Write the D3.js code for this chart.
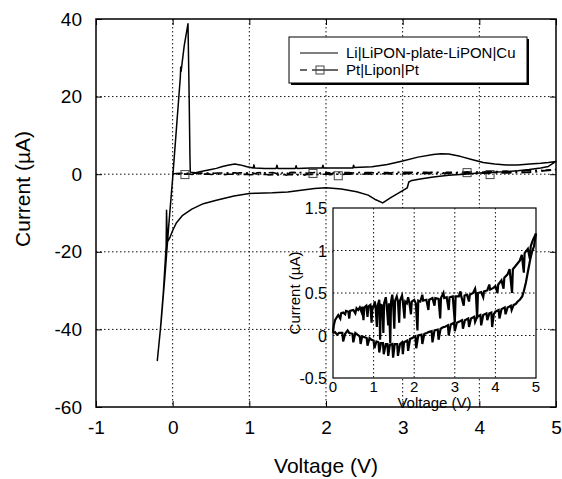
<!DOCTYPE html>
<html>
<head>
<meta charset="utf-8">
<script src="https://cdn.jsdelivr.net/npm/d3@7"></script>
<style>
  html, body { margin: 0; padding: 0; background: #fff; }
  svg { display: block; font-family: "Liberation Sans", Arial, sans-serif; }
</style>
</head>
<body>
<svg id="chart" width="562" height="479"></svg>
<script>
// ---------------- DATA ----------------
const xTicks = [-1, 0, 1, 2, 3, 4, 5];
const yTicks = [-60, -40, -20, 0, 20, 40];
const insetXTicks = [0, 1, 2, 3, 4, 5];
const insetYTicks = [-0.5, 0, 0.5, 1, 1.5];
const seriesNames = ["Li|LiPON-plate-LiPON|Cu", "Pt|Lipon|Pt"];

// Li|LiPON-plate-LiPON|Cu : [V, µA], in sweep order
const liAnodic = [[0.23,0.5],[0.3,0.4],[0.4,0.8],[0.5,1.2],[0.57,1.5],[0.65,2.0],[0.72,2.3],[0.81,2.6],[0.88,2.4],[0.97,1.9],
  [1.05,1.6],[1.06,2.4],[1.07,1.6],[1.2,1.5],[1.35,1.5],[1.36,2.3],[1.37,1.5],[1.55,1.5],[1.6,1.5],[1.61,2.2],[1.62,1.5],
  [1.8,1.6],[1.95,1.6],[1.96,2.3],[1.97,1.6],[2.2,1.6],[2.35,1.6],[2.36,2.3],[2.37,1.7],[2.6,1.9],[2.8,2.5],[3.0,3.4],[3.2,4.4],
  [3.4,5.1],[3.5,5.3],[3.6,5.2],[3.75,4.6],[3.9,3.8],[4.05,3.0],[4.2,2.6],[4.35,2.4],[4.5,2.4],[4.66,2.6],[4.8,2.8],[4.9,3.0],[5.0,3.3]];
const liCathodic = [[5.0,3.3],[4.9,2.0],[4.8,1.6],[4.65,1.2],[4.5,0.9],[4.3,0.6],[4.0,0.3],[3.8,0.0],[3.6,-0.3],[3.4,-0.7],
  [3.25,-1.2],[3.12,-1.6],[3.08,-2.0],[3.06,-3.5],[2.95,-4.8],[2.85,-6.0],[2.74,-7.4],[2.65,-6.6],[2.55,-5.4],[2.4,-4.5],
  [2.2,-3.8],[2.0,-3.5],[1.85,-3.7],[1.7,-4.1],[1.5,-4.6],[1.3,-4.8],[1.1,-4.9],[1.0,-5.0],[0.8,-5.6],[0.57,-6.7],[0.4,-7.6],
  [0.25,-9.0],[0.13,-10.6],[0.05,-12.5],[0.0,-14.5],[-0.04,-16.5],[-0.07,-17.5],[-0.08,-9.3],[-0.085,-18.5],[-0.12,-30],
  [-0.16,-40],[-0.2,-48]];
const liReturn = [[-0.2,-48],[-0.15,-38],[-0.1,-26],[-0.05,-13],[0.0,-1],[0.05,12],[0.1,25],[0.105,27.6],[0.11,26.5],
  [0.15,33],[0.2,38.8],[0.215,20],[0.225,5],[0.23,0.5]];

// Pt|Lipon|Pt : [V, µA]
const ptForward = [[0.00,0.03],[0.02,0.12],[0.05,0.18],[0.10,0.22],[0.13,0.24],[0.18,0.20],[0.2,0.26],[0.25,0.27],[0.3,0.25],
  [0.32,0.29],[0.38,0.28],[0.40,0.20],[0.42,0.29],[0.5,0.30],[0.55,0.26],[0.58,0.32],[0.62,0.30],[0.66,0.33],[0.70,0.28],
  [0.72,0.34],[0.75,0.18],[0.77,0.33],[0.82,0.35],[0.85,0.22],[0.87,0.34],[0.92,0.36],[0.95,0.15],[0.97,0.34],[1.00,0.34],
  [1.03,0.40],[1.05,0.33],[1.08,0.10],[1.10,0.35],[1.14,0.42],[1.16,-0.05],[1.18,0.36],[1.22,0.35],[1.24,0.03],[1.26,0.38],
  [1.30,0.45],[1.32,0.37],[1.36,0.12],[1.38,0.38],[1.41,-0.09],[1.43,0.40],[1.46,0.48],[1.48,0.38],[1.51,0.08],[1.53,0.41],
  [1.57,0.46],[1.60,0.40],[1.63,0.15],[1.65,0.41],[1.70,0.47],[1.72,0.40],[1.76,0.20],[1.78,0.40],[1.82,0.38],[1.85,0.45],
  [1.88,0.39],[1.92,0.25],[1.94,0.40],[2.00,0.42],[2.04,0.38],[2.08,0.06],[2.10,0.41],[2.15,0.40],[2.2,0.48],[2.22,0.41],
  [2.3,0.42],[2.35,0.30],[2.37,0.42],[2.45,0.44],[2.5,0.35],[2.52,0.44],[2.6,0.43],[2.64,0.20],[2.66,0.44],[2.72,0.50],
  [2.74,0.44],[2.8,0.45],[2.85,0.30],[2.87,0.45],[2.95,0.46],[3.0,0.15],[3.02,0.46],[3.1,0.46],[3.14,0.52],[3.16,0.46],
  [3.22,0.35],[3.24,0.47],[3.3,0.48],[3.35,0.40],[3.37,0.48],[3.45,0.50],[3.5,0.55],[3.52,0.49],[3.55,0.20],[3.57,0.50],
  [3.65,0.51],[3.7,0.45],[3.72,0.52],[3.8,0.53],[3.85,0.60],[3.87,0.54],[3.95,0.56],[4.0,0.58],[4.05,0.50],[4.07,0.60],
  [4.15,0.65],[4.2,0.55],[4.22,0.68],[4.3,0.72],[4.35,0.78],[4.41,0.50],[4.43,0.78],[4.5,0.82],[4.6,0.88],[4.65,0.95],
  [4.7,0.74],[4.72,0.97],[4.8,1.02],[4.85,0.90],[4.87,1.05],[4.92,1.12],[4.96,1.16],[5.0,1.20]];
const ptReverse = [[5.0,1.20],[4.95,1.05],[4.9,0.98],[4.86,0.90],[4.8,0.75],[4.75,0.62],[4.7,0.52],[4.66,0.46],[4.6,0.42],
  [4.55,0.40],[4.5,0.37],[4.45,0.36],[4.4,0.30],[4.38,0.35],[4.3,0.33],[4.25,0.25],[4.23,0.33],[4.15,0.31],[4.1,0.20],
  [4.08,0.30],[4.0,0.28],[3.96,0.25],[3.92,0.10],[3.9,0.27],[3.85,0.26],[3.8,0.18],[3.78,0.26],[3.7,0.24],[3.65,0.12],
  [3.63,0.24],[3.55,0.22],[3.5,0.16],[3.48,0.22],[3.4,0.20],[3.35,0.10],[3.33,0.20],[3.25,0.18],[3.2,0.08],[3.18,0.18],
  [3.14,0.17],[3.05,0.15],[3.0,0.05],[2.98,0.15],[2.9,0.13],[2.85,0.00],[2.83,0.12],[2.75,0.10],[2.72,0.10],[2.65,0.08],
  [2.6,-0.05],[2.58,0.07],[2.5,0.06],[2.45,-0.08],[2.43,0.05],[2.35,0.04],[2.31,0.03],[2.25,0.02],[2.2,-0.10],[2.18,0.01],
  [2.1,0.0],[2.05,-0.15],[2.03,-0.01],[1.95,-0.03],[1.9,-0.04],[1.85,-0.18],[1.83,-0.06],[1.75,-0.08],[1.72,-0.22],
  [1.70,-0.08],[1.65,-0.10],[1.6,-0.24],[1.58,-0.10],[1.52,-0.10],[1.48,-0.26],[1.46,-0.10],[1.40,-0.11],[1.36,-0.24],
  [1.34,-0.10],[1.3,-0.10],[1.25,-0.22],[1.23,-0.09],[1.18,-0.09],[1.14,-0.20],[1.12,-0.08],[1.07,-0.07],[1.02,-0.15],
  [1.0,-0.06],[0.95,-0.05],[0.9,-0.03],[0.85,-0.12],[0.83,-0.03],[0.78,-0.02],[0.72,-0.01],[0.68,-0.10],[0.66,-0.01],
  [0.6,0.01],[0.55,0.03],[0.50,-0.08],[0.48,0.02],[0.4,0.03],[0.36,0.06],[0.3,0.02],[0.25,-0.07],[0.23,0.03],[0.15,0.03],
  [0.1,0.01],[0.05,0.04],[0.0,0.03]];
const ptMarkerV = [0.16, 1.83, 2.16, 3.84, 4.14];
const ptMarkerI = [-0.1, 0.2, -0.4, 0.4, -0.1];

// ---------------- LAYOUT ----------------
const svg = d3.select("#chart");
const M = { left: 96, right: 556, top: 19, bottom: 407 };
const x = d3.scaleLinear().domain([-1, 5]).range([M.left, M.right]);
const y = d3.scaleLinear().domain([-60, 40]).range([M.bottom, M.top]);

const I = { left: 333, right: 536, top: 208, bottom: 378 };
const xi = d3.scaleLinear().domain([0, 5]).range([I.left, I.right]);
const yi = d3.scaleLinear().domain([-0.5, 1.5]).range([I.bottom, I.top]);

const fmt = d => String(d);
const FONT = "Liberation Sans, Arial, sans-serif";
const gridStyle = s => s.attr("stroke", "#111").attr("stroke-width", 1).attr("stroke-dasharray", "1.5,2.5");

// main grid
const g = svg.append("g");
g.selectAll(".vg").data(xTicks.slice(1, -1)).enter().append("line")
  .attr("x1", d => x(d)).attr("x2", d => x(d)).attr("y1", M.top).attr("y2", M.bottom).call(gridStyle);
g.selectAll(".hg").data(yTicks.slice(1, -1)).enter().append("line")
  .attr("x1", M.left).attr("x2", M.right).attr("y1", d => y(d)).attr("y2", d => y(d)).call(gridStyle);

// main axes (inward ticks)
svg.append("g").attr("transform", `translate(0,${M.bottom})`)
  .call(d3.axisBottom(x).tickValues(xTicks).tickSize(-6).tickFormat(fmt).tickPadding(14))
  .call(a => a.select(".domain").remove())
  .call(a => a.selectAll("text").attr("font-size", 19).attr("font-family", FONT).attr("fill", "#000"));
svg.append("g").attr("transform", `translate(${M.left},0)`)
  .call(d3.axisLeft(y).tickValues(yTicks).tickSize(-6).tickFormat(fmt).tickPadding(14))
  .call(a => a.select(".domain").remove())
  .call(a => a.selectAll("text").attr("font-size", 19).attr("font-family", FONT).attr("fill", "#000"));
svg.append("g").attr("transform", `translate(${M.right},0)`)
  .call(d3.axisRight(y).tickValues(yTicks).tickSize(-6).tickFormat(""))
  .call(a => a.select(".domain").remove());
svg.append("g").attr("transform", `translate(0,${M.top})`)
  .call(d3.axisTop(x).tickValues(xTicks).tickSize(-6).tickFormat(""))
  .call(a => a.select(".domain").remove());
svg.append("rect").attr("x", M.left).attr("y", M.top).attr("width", M.right - M.left).attr("height", M.bottom - M.top)
  .attr("fill", "none").attr("stroke", "#000").attr("stroke-width", 1.5);

// axis titles
svg.append("text").attr("x", (M.left + M.right) / 2).attr("y", 473).attr("text-anchor", "middle")
  .attr("font-size", 21).text("Voltage (V)");
svg.append("text").attr("transform", "translate(30,189) rotate(-90)").attr("text-anchor", "middle")
  .attr("font-size", 21).text("Current (\u00B5A)");

// main curves
const lineMain = d3.line().x(d => x(d[0])).y(d => y(d[1]));
const plot = svg.append("g");
plot.append("path").datum(ptForward.concat(ptReverse)).attr("d", lineMain)
  .attr("fill", "none").attr("stroke", "#000").attr("stroke-width", 1.6).attr("stroke-dasharray", "10,4,2,4");
plot.selectAll(".mk").data(ptMarkerV).enter().append("rect")
  .attr("x", (d) => x(d) - 4).attr("y", (d, i) => y(ptMarkerI[i]) - 4)
  .attr("width", 8).attr("height", 8).attr("fill", "none").attr("stroke", "#444").attr("stroke-width", 1);
plot.append("path").datum(liAnodic.concat(liCathodic, liReturn)).attr("d", lineMain)
  .attr("fill", "none").attr("stroke", "#000").attr("stroke-width", 1.5).attr("stroke-linejoin", "round");

// legend
const L = { x: 289, y: 37, w: 238, h: 46 };
svg.append("rect").attr("x", L.x + 2).attr("y", L.y + 2).attr("width", L.w).attr("height", L.h).attr("fill", "#000");
svg.append("rect").attr("x", L.x).attr("y", L.y).attr("width", L.w).attr("height", L.h)
  .attr("fill", "#fff").attr("stroke", "#000").attr("stroke-width", 1);
svg.append("line").attr("x1", 300).attr("x2", 338).attr("y1", 53).attr("y2", 53).attr("stroke", "#000").attr("stroke-width", 1.2);
svg.append("line").attr("x1", 300).attr("x2", 307).attr("y1", 70).attr("y2", 70).attr("stroke", "#000").attr("stroke-width", 1.2);
svg.append("line").attr("x1", 312).attr("x2", 338).attr("y1", 70).attr("y2", 70).attr("stroke", "#000").attr("stroke-width", 1.2);
svg.append("rect").attr("x", 316).attr("y", 66).attr("width", 8).attr("height", 8).attr("fill", "none").attr("stroke", "#444");
svg.selectAll(".lt").data(seriesNames).enter().append("text")
  .attr("x", 346).attr("y", (d, i) => 58 + i * 17).attr("font-size", 15).text(d => d);

// ---------------- INSET ----------------
svg.append("rect").attr("x", I.left).attr("y", I.top).attr("width", I.right - I.left).attr("height", I.bottom - I.top)
  .attr("fill", "#fff");
const gi = svg.append("g");
gi.selectAll(".ivg").data(insetXTicks.slice(1, -1)).enter().append("line")
  .attr("x1", d => xi(d)).attr("x2", d => xi(d)).attr("y1", I.top).attr("y2", I.bottom).call(gridStyle);
gi.selectAll(".ihg").data(insetYTicks.slice(1, -1)).enter().append("line")
  .attr("x1", I.left).attr("x2", I.right).attr("y1", d => yi(d)).attr("y2", d => yi(d)).call(gridStyle);
const lineIn = d3.line().x(d => xi(d[0])).y(d => yi(d[1]));
gi.append("path").datum(ptForward).attr("d", lineIn).attr("fill", "none").attr("stroke", "#000").attr("stroke-width", 2.2);
gi.append("path").datum(ptReverse).attr("d", lineIn).attr("fill", "none").attr("stroke", "#000").attr("stroke-width", 2.2);
svg.append("rect").attr("x", I.left).attr("y", I.top).attr("width", I.right - I.left).attr("height", I.bottom - I.top)
  .attr("fill", "none").attr("stroke", "#000").attr("stroke-width", 1.2);
svg.append("g").selectAll("text").data(insetXTicks).enter().append("text")
  .attr("x", d => xi(d)).attr("y", 392).attr("text-anchor", "middle").attr("font-size", 15).text(fmt);
svg.append("g").selectAll("text").data(insetYTicks).enter().append("text")
  .attr("x", 327).attr("y", d => yi(d) + 6).attr("text-anchor", "end").attr("font-size", 16).text(fmt);
svg.append("text").attr("x", (I.left + I.right) / 2).attr("y", 408).attr("text-anchor", "middle")
  .attr("font-size", 15).text("Voltage (V)");
svg.append("text").attr("transform", `translate(300,${(I.top + I.bottom) / 2}) rotate(-90)`).attr("text-anchor", "middle")
  .attr("font-size", 15).text("Current (\u00B5A)");
</script>
</body>
</html>
